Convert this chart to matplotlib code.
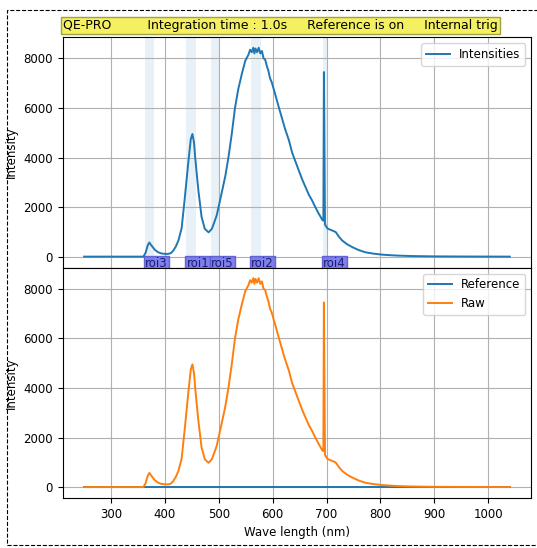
import numpy as np
import matplotlib
matplotlib.use('Agg')
import matplotlib.pyplot as plt
from matplotlib.patches import Rectangle

# wavelength (nm) and counts
wavelength = [250, 300, 350, 360, 364, 368, 371, 375, 381, 387, 393, 400, 406, 411,
              415, 420, 425, 431, 437, 443, 448, 451, 454, 456, 459, 462, 468, 474,
              481, 487, 491, 496, 500, 505, 512, 518, 524, 530, 536, 543, 549, 555,
              558, 561, 564, 566, 568, 571, 574, 577, 580, 583, 586, 589, 592, 595,
              598, 604, 611, 617, 623, 630, 636, 642, 648, 655, 661, 667, 673, 679,
              685, 689, 692, 694, 695, 697, 701, 705, 711, 717, 723, 729, 738, 748,
              760, 772, 787, 803, 820, 834, 855, 872, 900, 950, 1000, 1040]
raw = [0, 0, 0, 0, 150, 450, 570, 450, 280, 180, 130, 110, 110, 140,
       230, 400, 650, 1150, 2400, 3730, 4750, 4950, 4600, 4030, 3350, 2680, 1600, 1120,
       980, 1120, 1350, 1660, 2050, 2540, 3250, 4030, 4950, 6000, 6750, 7400, 7900, 8150,
       8350, 8250, 8430, 8200, 8400, 8250, 8430, 8200, 8300, 8000, 7950, 7700, 7500, 7200,
       7050, 6600, 6050, 5600, 5150, 4700, 4200, 3850, 3500, 3100, 2800, 2500, 2270, 2000,
       1750, 1600, 1480, 1450, 7450, 1300, 1150, 1100, 1050, 990, 800, 650, 500, 380,
       260, 175, 120, 80, 55, 40, 25, 18, 10, 5, 2, 0]
reference = [0] * len(wavelength)
intensities = raw

roi_names = ['roi3', 'roi1', 'roi5', 'roi2', 'roi4']
roi_start = [363, 440, 486, 560, 693]
roi_end = [380, 458, 501, 578, 700]

title_txt = ('QE-PRO' + ' ' * 9 + 'Integration time : 1.0s' + ' ' * 5 +
             'Reference is on' + ' ' * 5 + 'Internal trig')

plt.rcParams['font.size'] = 8.5

fig, (ax1, ax2) = plt.subplots(2, 1, figsize=(5.37, 5.48), dpi=100, sharex=True)
fig.subplots_adjust(left=0.117, right=0.989, top=0.932, bottom=0.091, hspace=0)

ax1.plot(wavelength, intensities, color='C0', lw=1.4, label='Intensities')
for name, a, b in zip(roi_names, roi_start, roi_end):
    ax1.axvspan(a, b, color='C0', alpha=0.1, lw=0)
    ax1.text(a, 0, name, ha='left', va='top', color='#1c1c70', fontsize=8.5,
             bbox=dict(facecolor='#7272ec', edgecolor='#5a5ad0', alpha=0.9, pad=0.8))
ax1.set_ylabel('Intensity')
ax1.legend(loc='upper right')
ax1.grid(True)
ax1.set_title(title_txt, loc='left', fontsize=9, pad=6,
              bbox=dict(facecolor='#f5f060', edgecolor='#a0a040', pad=1.5))
ax1.tick_params(labelbottom=False)

ax2.plot(wavelength, reference, color='C0', lw=1.4, label='Reference')
ax2.plot(wavelength, raw, color='C1', lw=1.4, label='Raw')
ax2.set_ylabel('Intensity')
ax2.set_xlabel('Wave length (nm)')
ax2.legend(loc='upper right')
ax2.grid(True)

ax1.set_ylim(-447, 8853)
ax2.set_ylim(-447, 8853)
ax2.set_xticks(np.arange(300, 1001, 100))

fig.patches.append(Rectangle((7 / 537, 1 - 545 / 548), 1.2, 535 / 548,
                             transform=fig.transFigure, fill=False, ls='--',
                             lw=0.8, ec='black'))

plt.savefig('out.png', dpi=100)
